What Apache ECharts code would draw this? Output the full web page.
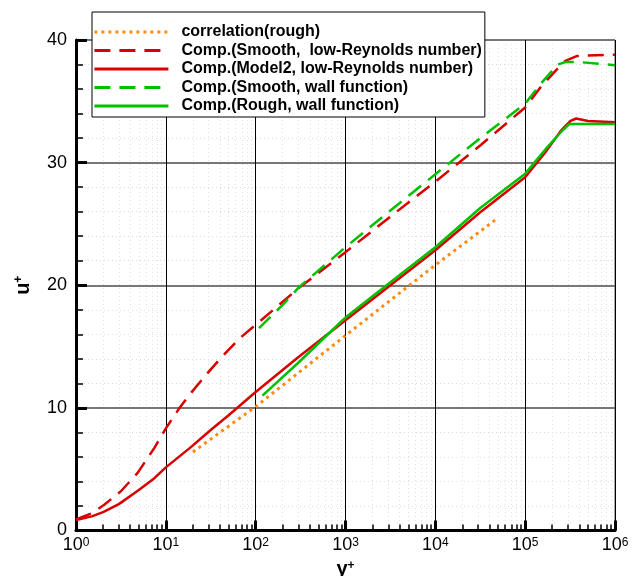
<!DOCTYPE html>
<html><head><meta charset="utf-8">
<script src="https://cdn.jsdelivr.net/npm/echarts@6/dist/echarts.min.js"></script>
<style>html,body{margin:0;padding:0;background:#fff}#c{width:641px;height:576px}</style>
</head><body><div id="c"></div>
<script>
// ---- data ----
const seriesNames = [
  'correlation(rough)',
  'Comp.(Smooth,  low-Reynolds number)',
  'Comp.(Model2, low-Reynolds number)',
  'Comp.(Smooth, wall function)',
  'Comp.(Rough, wall function)'
];
const correlationRough = [[20,6.4],[100,10.1],[1000,15.9],[10000,21.65],[47000,25.35]];
const smoothLowRe = [[1,0.9],[1.5,1.4],[2.06,2.1],[3.16,3.2],[4.85,4.7],[7.4,6.7],[10,8.33],[14.1,9.96],[18.2,11.04],[27.8,12.67],[42.6,14.2],[68,15.74],[109,17.0],[200,18.65],[300,19.75],[1000,22.7],[3162,25.6],[10000,28.45],[31620,31.4],[100000,34.5],[150000,36.2],[245000,37.9],[280000,38.3],[380000,38.7],[1000000,38.8]];
const model2LowRe = [[1,0.85],[1.5,1.15],[2,1.5],[3,2.15],[5,3.3],[7.4,4.25],[10,5.15],[19,6.8],[31.6,8.2],[50,9.4],[100,11.3],[300,14.15],[1000,17.15],[3162,20.0],[10000,22.86],[31620,25.95],[100000,28.8],[174000,31.0],[250000,32.6],[320000,33.4],[370000,33.6],[500000,33.4],[1000000,33.3]];
const smoothWallFn = [[109,16.5],[200,18.4],[300,19.8],[1000,23.1],[3162,26.1],[10000,29.05],[31620,32.0],[100000,34.8],[150000,36.45],[230000,38.0],[280000,38.2],[400000,38.2],[1000000,37.95]];
const roughWallFn = [[119,11.0],[290,13.6],[1000,17.37],[3162,20.25],[10000,23.1],[31620,26.3],[100000,29.1],[174000,31.2],[250000,32.5],[310000,33.15],[1000000,33.15]];
const yTicks = [0, 10, 20, 30, 40];
const xDecades = [0, 1, 2, 3, 4, 5, 6];

const FONT = 'Liberation Sans, Arial, Helvetica, sans-serif';
const RED = '#d80000', GREEN = '#00c000', ORANGE = '#ff8a10';

// minor tick positions for log axis (2..9 per decade), in log10 units
const minorLog = [];
for (let d = 0; d < xDecades.length - 1; d++) for (let k = 2; k <= 9; k++) minorLog.push(d + Math.log10(k));

const chart = echarts.init(document.getElementById('c'), null, {renderer: 'canvas'});
const seriesData = [correlationRough, smoothLowRe, model2LowRe, smoothWallFn, roughWallFn];
const seriesStyles = [
  {color: ORANGE, width: 3, type: [3, 4]},
  {color: RED, width: 2.5, type: [16, 9]},
  {color: RED, width: 2.5, type: 'solid'},
  {color: GREEN, width: 2.5, type: [16, 9]},
  {color: GREEN, width: 2.5, type: 'solid'}
];
const order = [2, 4, 1, 3, 0];
const series = seriesNames.map((n, i) => ({
  name: n, type: 'line', xAxisIndex: 0, yAxisIndex: 0,
  data: seriesData[i], showSymbol: false, symbol: 'none',
  smooth: false,
  color: seriesStyles[i].color,
  lineStyle: seriesStyles[i],
  z: 10 + order.indexOf(i)
}));

chart.setOption({
  animation: false,
  backgroundColor: '#fff',
  textStyle: {fontFamily: FONT},
  grid: {left: 76, right: 26, top: 40, bottom: 45.5, outerBoundsMode: 'none', containLabel: false,
    show: true, borderColor: '#555', borderWidth: 1, backgroundColor: 'transparent'},
  legend: {
    data: seriesNames, orient: 'vertical', left: 92, top: 12,
    padding: [11, 3, 2, 1], itemGap: 0.5, itemWidth: 74, itemHeight: 14,
    backgroundColor: '#fff', borderColor: '#000', borderWidth: 1, borderRadius: 0,
    itemStyle: {opacity: 0},
    lineStyle: {width: 2.8},
    textStyle: {fontFamily: FONT, fontSize: 16, fontWeight: 'bold', color: '#000', lineHeight: 18, padding: [0, 0, 0, 8]},
    z: 20
  },
  xAxis: [{
    type: 'log', logBase: 10, min: 1, max: 1e6, position: 'bottom',
    name: 'y{sup|+}', nameLocation: 'middle', nameGap: 24,
    nameTextStyle: {fontFamily: FONT, fontSize: 20, fontWeight: 'bold', color: '#000',
      rich: {sup: {fontSize: 12, fontWeight: 'bold', verticalAlign: 'top', color: '#000', fontFamily: FONT}}},
    axisLine: {show: true, lineStyle: {color: '#000', width: 3}},
    axisTick: {show: true, inside: true, length: 10, lineStyle: {color: '#000', width: 3}},
    axisLabel: {show: true, margin: 6, fontSize: 18, color: '#000', fontFamily: FONT,
      formatter: v => '10{sup|' + Math.round(Math.log10(v)) + '}',
      rich: {sup: {fontSize: 12, verticalAlign: 'top', color: '#000', fontFamily: FONT, padding: [0, 0, 6, 0]}}},
    splitLine: {show: true, lineStyle: {color: '#000', width: 1}},
    z: 5
  }, {
    type: 'value', min: 0, max: 6, position: 'bottom',
    axisLine: {show: false},
    axisTick: {show: true, inside: true, length: 6, customValues: minorLog, lineStyle: {color: '#000', width: 1.5}},
    axisLabel: {show: false, customValues: minorLog},
    splitLine: {show: true, lineStyle: {color: '#e2e2e2', width: 1, type: [1, 3]}},
    z: 4
  }],
  yAxis: {
    type: 'value', min: yTicks[0], max: yTicks[yTicks.length - 1], interval: 10,
    name: 'u{sup|+}', nameLocation: 'middle', nameGap: 43, nameRotate: 90,
    nameTextStyle: {fontFamily: FONT, fontSize: 20, fontWeight: 'bold', color: '#000',
      rich: {sup: {fontSize: 12, fontWeight: 'bold', verticalAlign: 'top', color: '#000', fontFamily: FONT}}},
    axisLine: {show: true, lineStyle: {color: '#000', width: 3}},
    axisTick: {show: true, inside: true, length: 11, lineStyle: {color: '#000', width: 3}},
    minorTick: {show: true, splitNumber: 5, length: 7, lineStyle: {color: '#000', width: 1.5}},
    axisLabel: {margin: 9, fontSize: 18, color: '#000', fontFamily: FONT},
    splitLine: {show: true, lineStyle: {color: '#777', width: 2}},
    minorSplitLine: {show: true, lineStyle: {color: '#dddddd', width: 1, type: [1, 3]}},
    z: 5
  },
  series: series
});
</script>
</body></html>
